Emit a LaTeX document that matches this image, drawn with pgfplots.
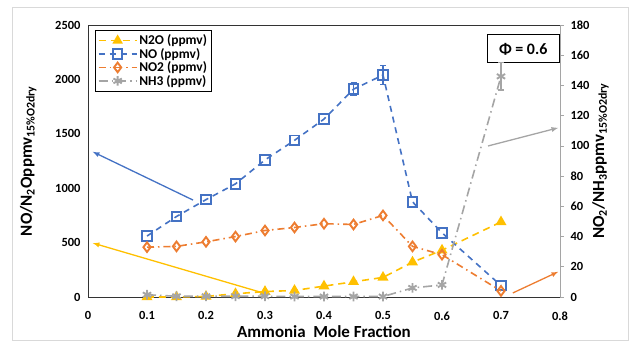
\documentclass[border=0pt]{standalone}
\usepackage{pgfplots}
\pgfplotsset{compat=1.18}
\usepackage{fontspec}
\setmainfont{Carlito}
\definecolor{cblue}{HTML}{4472C4}
\definecolor{corange}{HTML}{ED7D31}
\definecolor{cgray}{HTML}{A5A5A5}
\definecolor{cyellow}{HTML}{FFC000}
\begin{document}
\begin{tikzpicture}[font=\bfseries]
\useasboundingbox (-88bp,-47bp) rectangle (542bp,297bp);
\draw[color=black!15, line width=0.8bp] (-76bp,-43bp) rectangle (540bp,290bp);
\begin{axis}[
  at={(0,0)}, anchor=south west,
  scale only axis, width=472bp, height=272bp,
  xmin=0, xmax=0.8, ymin=0, ymax=2500,
  xtick={0,0.1,...,0.8}, ytick={0,500,...,2500},
  xticklabels={0,0.1,0.2,0.3,0.4,0.5,0.6,0.7,0.8},
  yticklabel style={/pgf/number format/1000 sep={}},
  /pgf/number format/assume math mode=true,
  major tick length=0pt,
  axis line style={black!80, line width=0.9bp},
  tick label style={font=\fontsize{12.5}{12.5}\selectfont\bfseries},
  xticklabel style={yshift=-11bp},
  yticklabel style={xshift=-4bp},
  xlabel={Ammonia\ \ Mole Fraction},
  xlabel style={font=\fontsize{17}{17}\selectfont\bfseries, yshift=1bp},
  ylabel={NO/N\textsubscript{2}Oppmv\textsubscript{15\%O2dry}},
  ylabel style={font=\fontsize{17}{17}\selectfont\bfseries, yshift=12bp},
  clip=false,
  legend style={at={(0.015,0.982)}, anchor=north west, draw=black, line width=0.8bp,
    font=\fontsize{13.5}{13.5}\selectfont\bfseries, row sep=-2bp, inner sep=2.5bp,
    cells={anchor=west}},
  legend image code/.code={\draw[mark repeat=2,mark phase=2] plot coordinates {(0bp,0bp) (19bp,0bp) (38bp,0bp)};},
  legend image post style={line width=1.3bp},
]
\addplot[color=cyellow, line width=1.6bp, dash pattern=on 7bp off 5bp,
  mark=triangle*, mark size=4.8bp, mark options={solid, fill=cyellow}]
coordinates {(0.1,0) (0.15,0) (0.2,5) (0.25,30) (0.3,50) (0.35,60) (0.4,100) (0.45,140) (0.5,180) (0.55,320) (0.6,430) (0.7,690)};
\addlegendentry{N2O (ppmv)}
\addplot[color=cblue, line width=1.6bp, dash pattern=on 6bp off 5bp,
  mark=square, mark size=4.8bp, mark options={solid, fill=white, line width=1.9bp},
  error bars/.cd, y dir=both, y explicit, error bar style={solid, line width=1.3bp}, error mark options={rotate=90, mark size=3bp, line width=1.3bp}]
coordinates {(0.1,560) (0.15,740) (0.2,895) (0.25,1040) (0.3,1260) (0.35,1440) (0.4,1635) (0.45,1910) +- (0,60) (0.5,2040) +- (0,85) (0.55,875) (0.6,590) (0.7,105)};
\addlegendentry{NO (ppmv)}
\addlegendimage{color=corange, line width=1.6bp, dash pattern=on 7bp off 4bp on 1.5bp off 4bp, mark=diamond, mark size=4.8bp, mark options={solid, fill=white, line width=1.9bp}}
\addlegendentry{NO2 (ppmv)}
\addlegendimage{color=cgray, line width=1.6bp, dash pattern=on 9bp off 4bp on 1.5bp off 4bp, mark=asterisk, mark size=4.8bp, mark options={solid, line width=1.9bp}}
\addlegendentry{NH3 (ppmv)}
% annotation arrows
\draw[-latex, cblue, line width=1.3bp] (axis cs:0.178,891) -- (axis cs:0.008,1335);
\draw[-latex, cyellow, line width=1.3bp] (axis cs:0.297,37) -- (axis cs:0.008,496);
\draw[-latex, cgray, line width=1.3bp] (axis cs:0.678,1388) -- (axis cs:0.797,1555);
\draw[-latex, corange, line width=1.3bp] (axis cs:0.72,37) -- (axis cs:0.797,232);
\node[draw=black, line width=1bp, fill=white, minimum width=72bp, minimum height=28bp, font=\fontsize{16}{16}\selectfont\bfseries]
  at (rel axis cs:0.922,0.912) {Φ = 0.6};
\end{axis}
\begin{axis}[
  at={(0,0)}, anchor=south west,
  scale only axis, width=472bp, height=272bp,
  xmin=0, xmax=0.8, ymin=0, ymax=180,
  axis x line=none, axis y line*=right,
  ytick={0,20,...,180},
  /pgf/number format/assume math mode=true,
  major tick length=4bp, tick align=outside,
  tick style={cgray, line width=0.6bp},
  axis line style={cgray, line width=0.9bp},
  tick label style={font=\fontsize{12.5}{12.5}\selectfont\bfseries},
  yticklabel style={xshift=3bp},
  ylabel={NO\textsubscript{2}/NH\textsubscript{3}ppmv\textsubscript{15\%O2dry}},
  ylabel style={font=\fontsize{17}{17}\selectfont\bfseries, yshift=4bp},
  clip=false,
]
\addplot[color=corange, line width=1.6bp, dash pattern=on 7bp off 4bp on 1.5bp off 4bp,
  mark=diamond, mark size=4.8bp, mark options={solid, fill=white, line width=1.9bp}]
coordinates {(0.1,33) (0.15,33.5) (0.2,36.5) (0.25,40) (0.3,44) (0.35,46) (0.4,48.5) (0.45,48) (0.5,54) (0.55,33.5) (0.6,28) (0.7,4)};
\addplot[color=cgray, line width=1.6bp, dash pattern=on 9bp off 4bp on 1.5bp off 4bp,
  mark=asterisk, mark size=4.8bp, mark options={solid, line width=1.9bp},
  error bars/.cd, y dir=both, y explicit, error bar style={solid, line width=1.3bp}, error mark options={rotate=90, mark size=3bp, line width=1.3bp}]
coordinates {(0.1,1.5) (0.15,0.5) (0.2,0.5) (0.25,0.5) (0.3,0.5) (0.35,0.3) (0.4,0.3) (0.45,0.3) (0.5,0.3) (0.55,6) (0.6,8) (0.7,146) +- (0,9)};
\end{axis}
\end{tikzpicture}
\end{document}
